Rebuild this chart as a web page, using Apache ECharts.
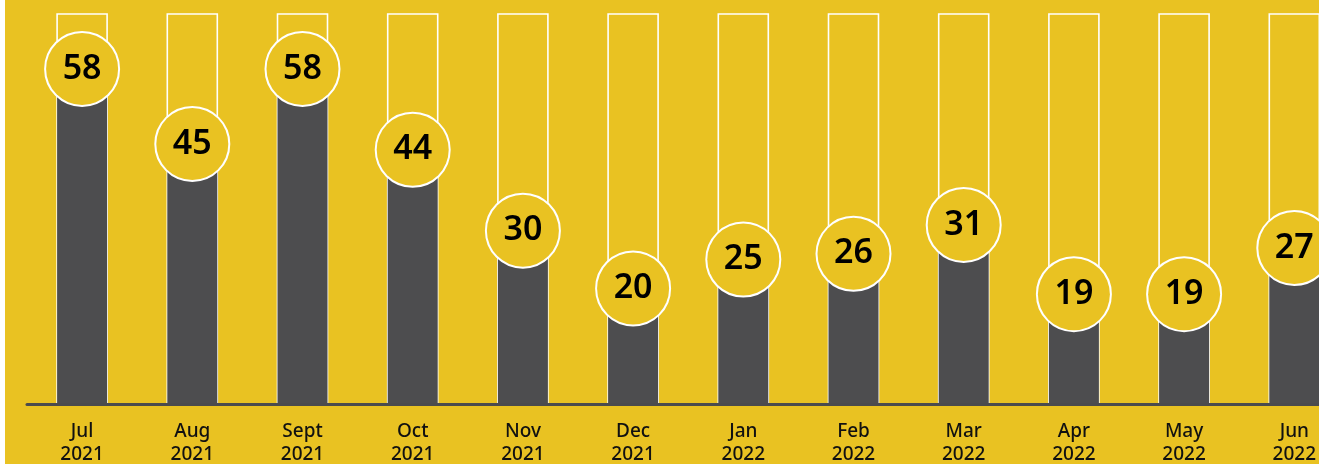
<!DOCTYPE html>
<html>
<head>
<meta charset="utf-8">
<script src="https://cdn.jsdelivr.net/npm/echarts@6/dist/echarts.min.js"></script>
<style>
  html, body { margin: 0; padding: 0; background: #ffffff; }
  #chart { position: absolute; left: 5px; top: 0; width: 1314px; height: 464px; background: #E9C222; }
</style>
</head>
<body>
<div id="chart"></div>
<script>
// Monthly counts, July 2021 to June 2022
const months = ['Jul', 'Aug', 'Sept', 'Oct', 'Nov', 'Dec', 'Jan', 'Feb', 'Mar', 'Apr', 'May', 'Jun'];
const years = ['2021', '2021', '2021', '2021', '2021', '2021', '2022', '2022', '2022', '2022', '2022', '2022'];
const counts = [58, 45, 58, 44, 30, 20, 25, 26, 31, 19, 19, 27];
const axisMax = 67.5;

const categories = months.map((m, i) => m + '\n' + years[i]);

const chart = echarts.init(document.getElementById('chart'), null, { renderer: 'canvas' });
chart.setOption({
  backgroundColor: '#E9C222',
  animation: false,
  grid: { left: 22, width: 1322.4, top: 14, bottom: 60, containLabel: false, outerBoundsMode: 'none' },
  xAxis: {
    type: 'category',
    data: categories,
    axisTick: { show: false },
    axisLine: { show: true, lineStyle: { color: '#4B4B4D', width: 3 } },
    axisLabel: {
      color: '#111111',
      fontFamily: 'Noto Sans',
      fontWeight: 500,
      fontSize: 19,
      lineHeight: 23,
      margin: 16
    },
    z: 5
  },
  yAxis: {
    type: 'value',
    min: 0,
    max: axisMax,
    show: false,
    splitLine: { show: false }
  },
  series: [{
    type: 'bar',
    data: counts,
    barWidth: 50,
    itemStyle: { color: '#4D4D4F' },
    showBackground: true,
    backgroundStyle: {
      color: 'rgba(0,0,0,0)',
      borderColor: '#FFFFFF',
      borderWidth: 1.6
    },
    label: {
      show: true,
      position: ['50%', 0],
      align: 'center',
      verticalAlign: 'middle',
      formatter: '{c}',
      color: '#000000',
      fontFamily: 'Noto Sans',
      fontWeight: 600,
      fontSize: 34,
      width: 72,
      height: 72,
      lineHeight: 72,
      padding: 0,
      backgroundColor: '#E9C222',
      borderColor: '#FFFFFF',
      borderWidth: 2,
      borderRadius: 37
    }
  }]
});
</script>
</body>
</html>
